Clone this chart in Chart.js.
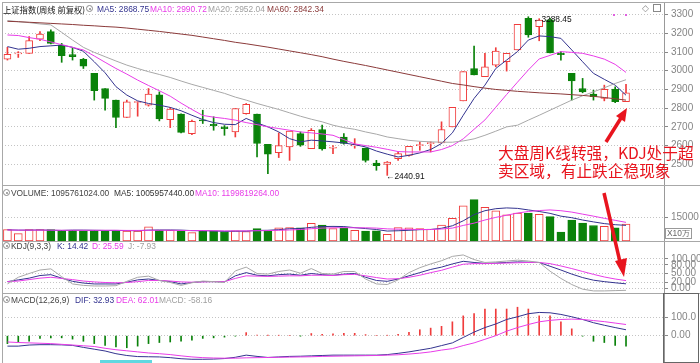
<!DOCTYPE html>
<html><head><meta charset="utf-8">
<script src="https://cdn.jsdelivr.net/npm/chart.js@4.4.1/dist/chart.umd.min.js"></script>
<style>
html,body{margin:0;padding:0;background:#fff;}
#root{position:relative;width:700px;height:363px;overflow:hidden;font-family:"Liberation Sans",Arial,sans-serif;}
canvas{position:absolute;left:0;}
.t{position:absolute;white-space:nowrap;font-size:8.4px;line-height:10px;z-index:5;}
.hl{position:absolute;left:2px;width:698px;height:1px;background:#a8a8a8;z-index:4;}
.ic{position:absolute;width:5px;height:5px;border-radius:50%;border:1.5px solid #8a8a8a;background:#fff;z-index:5;box-sizing:content-box;}
.ic::after{content:"";position:absolute;left:1.5px;top:1.5px;width:2px;height:2px;border-radius:50%;background:#8a8a8a;}
.note{position:absolute;white-space:nowrap;color:#e8141e;font-family:"Noto Sans CJK SC",sans-serif;font-size:15.7px;line-height:18px;z-index:6;}
</style></head>
<body><div id="root">
<canvas id="cMain" width="700" height="182" style="top:3px"></canvas>
<canvas id="cVol" width="700" height="56" style="top:185px"></canvas>
<canvas id="cKdj" width="700" height="52" style="top:241px"></canvas>
<canvas id="cMacd" width="700" height="70" style="top:293px"></canvas>

<div class="hl" style="top:2px"></div>
<div class="hl" style="top:185px"></div>
<div class="hl" style="top:241px"></div>
<div class="hl" style="top:293px"></div>
<div style="position:absolute;left:2px;top:2px;width:1px;height:361px;background:#a8a8a8;z-index:4"></div>
<div style="position:absolute;left:663px;top:293px;width:34px;height:68px;border:1.5px solid #666;z-index:4"></div>

<div class="t" style="left:3px;top:4px;color:#111;font-family:'Noto Sans CJK SC',sans-serif;font-size:8.3px">上证指数(周线 前复权)</div>
<div class="ic" style="left:86px;top:5px"></div>
<div class="t" style="left:97px;top:4px;color:#33338f">MA5: 2868.75</div>
<div class="t" style="left:150px;top:4px;color:#e83ce8">MA10: 2990.72</div>
<div class="t" style="left:208px;top:4px;color:#a0a0a0">MA20: 2952.04</div>
<div class="t" style="left:267px;top:4px;color:#8b3a3a">MA60: 2842.34</div>
<div class="t" style="left:642px;top:3px;color:#888;font-size:9px">◇</div>
<div style="position:absolute;left:653px;top:4px;width:6px;height:6px;border:1px solid #888;z-index:5"></div>
<div style="position:absolute;left:613px;top:14px;width:2px;height:2px;background:#e060e0;z-index:5"></div>
<div style="position:absolute;left:625px;top:14px;width:2px;height:2px;background:#e060e0;z-index:5"></div>
<div class="t" style="left:533px;top:14px;color:#111">←3288.45</div>
<div class="t" style="left:386px;top:171px;color:#111">←2440.91</div>

<div class="ic" style="left:3px;top:189px"></div>
<div class="t" style="left:11px;top:188px;color:#444">VOLUME: 1095761024.00</div>
<div class="t" style="left:114px;top:188px;color:#333">MA5: 1005957440.00</div>
<div class="t" style="left:195px;top:188px;color:#e83ce8">MA10: 1199819264.00</div>
<div class="t" style="left:665px;top:228px;color:#666;border:1px solid #999;padding:0 1px;line-height:9px">X10万</div>

<div class="ic" style="left:3px;top:242px"></div>
<div class="t" style="left:11px;top:241px;color:#444">KDJ(9,3,3)</div>
<div class="t" style="left:57px;top:241px;color:#33338f">K: 14.42</div>
<div class="t" style="left:92px;top:241px;color:#e83ce8">D: 25.59</div>
<div class="t" style="left:128px;top:241px;color:#a0a0a0">J: -7.93</div>

<div class="ic" style="left:3px;top:296px"></div>
<div class="t" style="left:11px;top:295px;color:#444">MACD(12,26,9)</div>
<div class="t" style="left:75px;top:295px;color:#33338f">DIF: 32.93</div>
<div class="t" style="left:116px;top:295px;color:#e83ce8">DEA: 62.01</div>
<div class="t" style="left:159px;top:295px;color:#a0a0a0">MACD: -58.16</div>
<div style="position:absolute;left:100px;top:360px;width:52px;height:3px;background:#5fd8e0;z-index:5"></div>

<div class="note" style="left:498px;top:144px">大盘周K线转强，KDJ处于超</div>
<div class="note" style="left:498px;top:162px">卖区域，有止跌企稳现象</div>

<svg width="700" height="363" style="position:absolute;left:0;top:0;z-index:7" xmlns="http://www.w3.org/2000/svg">
  <line x1="606" y1="142" x2="621" y2="118" stroke="#e8141e" stroke-width="3.5"/>
  <polygon points="627,108 616,116 625,122" fill="#e8141e"/>
  <line x1="604" y1="193" x2="620" y2="262" stroke="#e8141e" stroke-width="3.5"/>
  <polygon points="624,277 615,261 627,258" fill="#e8141e"/>
</svg>
</div>
<script>
// ---------- data (weekly bars) ----------
const weeks = ['W01','W02','W03','W04','W05','W06','W07','W08','W09','W10','W11','W12','W13','W14','W15','W16','W17','W18','W19','W20','W21','W22','W23','W24','W25','W26','W27','W28','W29','W30','W31','W32','W33','W34','W35','W36','W37','W38','W39','W40','W41','W42','W43','W44','W45','W46','W47','W48','W49','W50','W51','W52','W53','W54','W55','W56','W57','W58'];
const spareSlots = ['', '', ''];
const opens  = [3062,3090,3093,3168,3209,3137,3086,3061,2986,2905,2843,2750,2830,2816,2871,2739,2768,2664,2738,2714,2700,2673,2771,2768,2607,2562,2593,2664,2584,2686,2586,2646,2598,2587,2507,2500,2530,2548,2600,2610,2614,2700,2839,3012,2968,3030,3048,3111,3280,3235,3272,3093,2986,2905,2875,2852,2902,2834];
const highs  = [3125,3102,3182,3209,3218,3146,3120,3066,2986,2905,2843,2843,2834,2905,2887,2804,2770,2736,2789,2754,2707,2798,2825,2768,2607,2668,2677,2673,2691,2709,2600,2664,2637,2587,2521,2515,2566,2596,2620,2620,2727,2804,2995,3132,3093,3123,3093,3248,3288.45,3278,3280,3102,2986,2959,2896,2923,2914,2927];
const lows   = [3057,3071,3093,3161,3143,3045,3057,3012,2843,2789,2696,2750,2757,2811,2732,2696,2668,2659,2718,2682,2655,2646,2768,2539,2450,2536,2521,2596,2584,2575,2557,2607,2586,2512,2468,2440.91,2521,2543,2575,2566,2614,2700,2839,2977,2968,3021,2998,3111,3179,3160,3095,3057,2843,2882,2843,2839,2829,2834];
const closes = [3087,3093,3161,3196,3146,3080,3075,3025,2893,2852,2750,2834,2834,2875,2743,2795,2671,2729,2732,2706,2690,2798,2821,2611,2554,2600,2677,2602,2682,2582,2590,2611,2605,2521,2493,2512,2557,2596,2604,2616,2686,2804,2995,2977,3021,3105,3093,3248,3191,3270,3095,3086,2945,2887,2861,2900,2834,2882];
const ma5  = [3129,3115,3120,3129,3133,3137,3125,3104,3048,2989,2915,2870,2839,2825,2816,2804,2786,2762,2739,2723,2714,2712,2745,2721,2700,2673,2637,2620,2629,2625,2620,2614,2605,2593,2571,2554,2539,2548,2561,2579,2611,2668,2762,2852,2923,3012,3057,3102,3164,3186,3182,3173,3111,3048,2986,2954,2923,2869];
const ma10 = [3191,3188,3177,3168,3154,3139,3125,3111,3079,3045,3012,2982,2950,2921,2893,2864,2827,2793,2761,2752,2745,2736,2723,2712,2700,2691,2682,2673,2668,2662,2655,2632,2609,2600,2591,2580,2568,2566,2566,2566,2579,2600,2636,2687,2737,2805,2873,2939,3004,3063,3082,3102,3098,3093,3079,3062,3034,2991];
const ma20 = [3268,3262,3257,3250,3245,3205,3164,3125,3098,3075,3052,3030,3012,2995,2980,2964,2945,2927,2911,2895,2879,2859,2843,2825,2809,2793,2775,2757,2741,2727,2709,2696,2687,2673,2661,2646,2637,2628,2623,2620,2618,2618,2625,2636,2655,2677,2700,2709,2736,2762,2789,2816,2843,2866,2887,2909,2932,2952];
const ma60 = [3264,3262,3259,3256,3253,3250,3247,3243,3240,3236,3233,3228,3222,3216,3210,3203,3196,3189,3180,3171,3162,3152,3144,3135,3126,3116,3106,3096,3086,3075,3062,3050,3039,3028,3016,3004,2992,2980,2968,2956,2944,2932,2924,2915,2907,2900,2895,2890,2886,2882,2879,2876,2872,2868,2863,2857,2850,2843];
// volume in units of 10万
const volumes = [7370,4740,7370,7370,7370,6900,6900,6600,6900,6600,6900,6400,6400,9080,6900,6900,6400,5400,6600,6400,6100,6600,6100,8000,6400,8400,8700,8400,11300,10300,8000,8400,6900,6400,6600,4300,8700,8400,8000,7700,10300,14600,22700,26600,21600,19400,16800,17900,18000,17200,15700,5800,13500,11500,10000,9500,8400,10958];
const volMa5  = [7200,7000,7000,7100,6900,6800,7000,7000,6900,6800,6800,6700,6600,7000,7100,7100,7000,6700,6600,6500,6200,6300,6300,6800,6900,7300,7900,8000,8800,9300,9400,9300,8600,8000,7400,6400,6600,6900,7300,7400,8200,9800,13000,17000,19500,20800,21300,21000,20000,19000,17800,16000,15000,13500,12300,11200,10500,10060];
const volMa10 = [7100,7000,7000,7000,7000,6900,6900,6900,6900,6900,6900,6800,6800,6900,6900,6900,6800,6700,6700,6600,6500,6500,6500,6600,6700,6900,7100,7400,7900,8300,8500,8600,8500,8500,8300,7800,7600,7500,7400,7400,7700,8300,10000,11500,13500,15200,16600,18000,19000,19600,20000,19500,18600,17300,16000,14600,13300,11998];
const kdjK = [22,28,34,43,46,34,23,17,14,14,14,20,28,31,26,22,14,19,22,22,21,42,53,44,42,46,48,44,50,46,44,48,50,37,26,23,31,42,53,64,72,83,92,88,85,86,88,90,89,88,75,62,48,36,27,22,18,14.42];
const kdjD = [22,24,29,34,37,33,29,24,21,19,18,19,22,26,26,24,21,20,21,22,22,33,42,41,40,41,42,42,44,44,43,46,47,42,36,31,32,37,44,53,61,72,82,84,84,85,86,87,88,88,84,76,67,57,47,38,31,25.59];
const kdjJ = [14,37,50,62,66,39,14,9,7,7,8,23,37,41,26,19,9,18,24,22,19,59,72,50,48,57,62,51,67,50,48,57,57,31,14,12,28,53,70,83,94,109,114,98,88,90,93,96,93,88,58,33,12,-4,-10,-10,-9,-7.93];
const dif = [-58,-58,-52,-50,-50,-51,-54,-65,-75,-85,-100,-110,-116,-117,-118,-122,-128,-131,-131,-130,-127,-120,-108,-115,-121,-118,-115,-114,-112,-110,-108,-108,-108,-108,-108,-105,-98,-90,-80,-70,-55,-40,-10,20,45,65,90,105,122,129,127,118,105,90,72,58,45,32.93];
const dea = [-35,-38,-40,-42,-44,-48,-52,-56,-60,-70,-78,-84,-90,-96,-100,-105,-112,-118,-122,-124,-125,-125,-123,-122,-121,-120,-119,-118,-117,-115,-114,-113,-112,-111,-110,-108,-106,-102,-97,-90,-80,-72,-55,-40,-20,0,25,45,62,77,85,90,92,90,84,78,70,62.01];
const macdHist = [-44,-35,-31,-15,-12,-12,-19,-31,-44,-54,-63,-67,-58,-44,-38,-35,-31,-25,-15,-12,-8,-2,17,4,2,2,0,-1,12,8,10,13,13,6,0,2,8,19,33,42,52,77,110,123,148,148,148,158,148,110,110,77,38,-2,-31,-38,-54,-58.16];

// ---------- styling ----------
const UP = '#f03c3c', DN = '#0a820a';
const C_MA5 = '#33338f', C_MA10 = '#e83ce8', C_MA20 = '#a8a8a8', C_MA60 = '#8b3a3a';
const xLabels = weeks.concat(spareSlots);
const isUp = closes.map((c, i) => c >= opens[i]);
Chart.defaults.font.family = '"Liberation Sans", Arial, sans-serif';

function yScale(min, max, tickVals, fmt) {
  return {
    position: 'right', min, max,
    afterFit(s) { s.width = 36; s.paddingTop = 0; s.paddingBottom = 0; },
    afterBuildTicks(s) { s.ticks = tickVals.map(v => ({ value: v })); },
    ticks: { autoSkip: false, color: '#858585', font: { size: 10 }, padding: 3, callback: fmt },
    grid: { color: '#c4c4c4', lineWidth: 1, drawTicks: true, tickLength: 4, tickColor: '#888' },
    border: { display: true, color: '#999', width: 1, dash: [1, 2] }
  };
}
function opts(y) {
  return {
    responsive: false, animation: false, events: [],
    layout: { padding: { left: 2, right: 0, top: 0, bottom: 0 } },
    plugins: { legend: { display: false }, tooltip: { enabled: false } },
    scales: { x: { type: 'category', labels: xLabels, offset: true, display: false }, y }
  };
}
function line(data, color) {
  return { type: 'line', data, borderColor: color, borderWidth: 1, pointRadius: 0, tension: 0, order: 1, fill: false };
}

// main price panel
new Chart(document.getElementById('cMain'), {
  type: 'bar',
  data: { labels: xLabels, datasets: [
    { data: lows.map((l, i) => [l, highs[i]]), backgroundColor: isUp.map(u => u ? UP : DN), barThickness: 1, grouped: false, order: 3 },
    { data: opens.map((o, i) => [o, closes[i]]), backgroundColor: isUp.map(u => u ? '#ffffff' : DN), borderColor: isUp.map(u => u ? UP : DN),
      borderWidth: 1, borderSkipped: false, barThickness: 7, grouped: false, order: 2, minBarLength: 1 },
    line(ma60, C_MA60), line(ma20, C_MA20), line(ma10, C_MA10), line(ma5, C_MA5)
  ]},
  options: opts(yScale(2389.4, 3361.9, [2500, 2600, 2700, 2800, 2900, 3000, 3100, 3200, 3300], v => String(v)))
});

// volume panel
new Chart(document.getElementById('cVol'), {
  type: 'bar',
  data: { labels: xLabels, datasets: [
    { data: volumes, backgroundColor: isUp.map(u => u ? '#ffffff' : DN), borderColor: isUp.map(u => u ? UP : DN),
      borderWidth: 1, borderSkipped: false, barThickness: 8, grouped: false, order: 2 },
    line(volMa10, C_MA10), line(volMa5, C_MA5)
  ]},
  options: opts(yScale(0, 36050, [15000], v => String(v)))
});

// KDJ panel
new Chart(document.getElementById('cKdj'), {
  type: 'line',
  data: { labels: xLabels, datasets: [ line(kdjJ, '#a8a8a8'), line(kdjD, C_MA10), line(kdjK, C_MA5) ] },
  options: opts(yScale(-17.2, 162, [0, 20, 50, 80, 100], v => v.toFixed(2)))
});

// MACD panel
new Chart(document.getElementById('cMacd'), {
  type: 'bar',
  data: { labels: xLabels, datasets: [
    { data: macdHist, backgroundColor: macdHist.map(v => v >= 0 ? UP : DN), barThickness: 1, grouped: false, order: 2 },
    line(dea, C_MA10), line(dif, C_MA5)
  ]},
  options: opts(yScale(-151.7, 237, [0, 100], v => v === 0 ? '0.00' : v.toFixed(1)))
});
</script>
</body></html>
